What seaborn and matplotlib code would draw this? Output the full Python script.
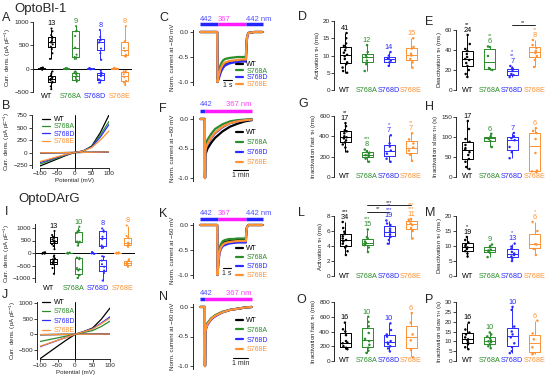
import numpy as np
import pandas as pd
import matplotlib
matplotlib.use("Agg")
import matplotlib.pyplot as plt
import seaborn as sns

sns.set_style("ticks")
plt.rcParams["font.family"] = ["Liberation Sans", "DejaVu Sans"]
plt.rcParams["axes.linewidth"] = 0.7

groups = ["WT", "S768A", "S768D", "S768E"]
colors = ["#000000", "#2b8c2b", "#2b2bff", "#ff9233"]
pal = dict(zip(groups, colors))

# ---------------- OptoBl-1 ----------------
# A: current densities (pA/pF): dark / light-on peak / light-off
a_dark = {"WT": [-20, -12, -6, 0, 5, 10, 18, 25], "S768A": [-12, -6, -2, 3, 8, 12],
          "S768D": [-15, -8, -3, 2, 7, 12], "S768E": [-10, -4, 2, 8, 14, 20]}
a_pos = {"WT": [210, 330, 420, 470, 520, 560, 570, 600, 640, 680, 720, 800, 860],
         "S768A": [210, 240, 250, 300, 450, 700, 800, 820, 910],
         "S768D": [190, 330, 430, 560, 600, 620, 680, 830],
         "S768E": [260, 270, 300, 380, 440, 570, 600, 910]}
a_neg = {"WT": [-440, -380, -300, -280, -250, -220, -200, -180, -150, -110, -60],
         "S768A": [-275, -250, -240, -200, -160, -120, -100, -80, -60],
         "S768D": [-300, -250, -230, -160, -130, -110, -80, -40],
         "S768E": [-350, -300, -260, -180, -120, -80, -60, -50]}
a_n = [13, 9, 8, 8]

# B: I-V curves (pA/pF)
iv_mv = [-100, -75, -50, -25, 0, 25, 50, 75, 100]
b_light = {"WT": [-270, -200, -130, -60, 0, 30, 130, 400, 750],
           "S768A": [-230, -170, -110, -50, 0, 30, 120, 350, 620],
           "S768D": [-200, -150, -95, -45, 0, 30, 110, 310, 560],
           "S768E": [-180, -135, -85, -40, 0, 30, 100, 250, 430]}
b_dark = {"WT": [-8, -6, -4, -2, 0, 2, 4, 7, 10], "S768A": [-6, -5, -3, -1, 0, 2, 4, 6, 9],
          "S768D": [-7, -5, -3, -2, 0, 2, 3, 6, 9], "S768E": [-5, -4, -3, -1, 0, 2, 5, 8, 12]}

# C: normalized current, 442/367/442 nm protocol (s)
c_t = [0, 2.05, 2.1, 2.2, 2.35, 2.5, 2.75, 3.0, 3.5, 4.0, 4.5, 5.0, 5.5, 5.55, 5.65, 5.8, 6.5, 7.5]
c_trace = {"WT": [0, 0, -1.0, -0.92, -0.83, -0.76, -0.69, -0.65, -0.62, -0.60, -0.59, -0.58, -0.58, -0.35, -0.10, -0.02, 0, 0],
           "S768A": [0, 0, -1.0, -0.85, -0.72, -0.64, -0.57, -0.54, -0.52, -0.51, -0.50, -0.50, -0.50, -0.30, -0.08, -0.02, 0, 0],
           "S768D": [0, 0, -1.0, -0.95, -0.88, -0.80, -0.72, -0.67, -0.63, -0.61, -0.60, -0.59, -0.59, -0.35, -0.10, -0.02, 0, 0],
           "S768E": [0, 0, -1.0, -0.90, -0.80, -0.72, -0.65, -0.61, -0.58, -0.57, -0.56, -0.55, -0.55, -0.33, -0.09, -0.02, 0, 0]}
c_light = [0, 2.1, 5.5, 7.5]

# F: normalized current, 442 then 367 nm (min)
f_t = [0, 0.32, 0.33, 0.35, 0.4, 0.5, 0.75, 1.0, 1.5, 2.0, 2.5, 3.0, 3.45]
f_trace = {"WT": [0, 0, -1.0, -0.62, -0.57, -0.50, -0.40, -0.32, -0.21, -0.13, -0.08, -0.04, -0.02],
           "S768A": [0, 0, -1.0, -0.50, -0.42, -0.35, -0.25, -0.17, -0.09, -0.04, -0.02, -0.01, 0],
           "S768D": [0, 0, -1.0, -0.55, -0.50, -0.43, -0.32, -0.24, -0.14, -0.07, -0.04, -0.02, -0.01],
           "S768E": [0, 0, -1.0, -0.55, -0.48, -0.42, -0.31, -0.23, -0.13, -0.07, -0.04, -0.02, -0.01]}
f_light = [0, 0.33, 3.45]

# D-H: kinetics
d_act = {"WT": [5.0, 5.5, 6.5, 7.5, 8.0, 9.0, 9.8, 10.2, 10.8, 11.5, 12.3, 12.8, 13.5, 15.0, 16.5],
         "S768A": [5.5, 7.5, 8.5, 9.5, 10.0, 11.0, 13.0],
         "S768D": [7.0, 8.0, 8.5, 9.0, 9.3, 10.0, 11.0],
         "S768E": [6.5, 8.0, 9.0, 10.0, 10.5, 12.0, 12.5, 15.0]}
d_n = [41, 12, 14, 15]
e_deact = {"WT": [13, 16, 20, 24, 27, 30, 31, 33, 36, 39, 41, 46, 55],
           "S768A": [20, 21, 22, 34, 43, 43.5],
           "S768D": [13, 15, 16, 19, 21, 22, 24],
           "S768E": [23, 30, 34, 37, 39, 42, 45, 50]}
e_n = [24, 6, 7, 8]
e_stars = ["**", "**", "*\n**", "**"]
g_fast = {"WT": [250, 290, 320, 340, 360, 380, 390, 400, 430, 450, 460, 500, 530],
          "S768A": [150, 180, 200, 215, 225, 240, 255, 270],
          "S768D": [150, 180, 230, 260, 300, 330, 410],
          "S768E": [160, 220, 260, 290, 330, 370, 430]}
g_n = [17, 8, 7, 7]
g_stars = ["**", "***", "*", "**"]
h_slow = {"WT": [20, 25, 38, 45, 55, 62, 68, 72, 80, 88, 95, 120, 140],
          "S768A": [75, 90, 95, 98, 102, 108],
          "S768D": [47, 62, 75, 92, 97, 102, 110],
          "S768E": [12, 14, 16, 60, 95, 110, 115, 122]}
h_n = [17, 6, 7, 6]

# ---------------- OptoDArG ----------------
i_dark = {"WT": [-30, -15, -5, 5, 15, 30], "S768A": [-20, -10, 0, 10, 20],
          "S768D": [-35, -20, -5, 5, 20, 35], "S768E": [-20, -8, 2, 12, 25]}
i_pos = {"WT": [150, 280, 350, 420, 480, 500, 540, 600, 650, 720, 880],
         "S768A": [300, 400, 430, 440, 450, 460, 800, 870, 900, 1050],
         "S768D": [200, 250, 300, 550, 650, 850, 900, 980],
         "S768E": [250, 290, 330, 380, 420, 600, 680, 1100]}
i_neg = {"WT": [-830, -600, -450, -420, -380, -350, -300, -250, -220, -150, -100],
         "S768A": [-1000, -900, -880, -700, -650, -600, -250, -200, -190, -180],
         "S768D": [-1100, -800, -700, -550, -450, -300, -150, -130],
         "S768E": [-550, -480, -470, -420, -380, -320, -300, -250]}
i_n = [13, 10, 8, 8]

j_light = {"WT": [-780, -580, -380, -185, 0, 90, 200, 480, 840],
           "S768A": [-230, -170, -115, -55, 0, 60, 120, 250, 420],
           "S768D": [-395, -295, -195, -95, 0, 90, 180, 360, 560],
           "S768E": [-380, -285, -190, -95, 0, 85, 170, 340, 520]}
j_dark = {"WT": [-10, -8, -5, -3, 0, 3, 5, 8, 12], "S768A": [-8, -6, -4, -2, 0, 2, 4, 6, 9],
          "S768D": [-9, -7, -5, -2, 0, 2, 4, 7, 10], "S768E": [-8, -6, -4, -2, 0, 2, 5, 7, 10]}

k_trace = {"WT": [0, 0, -1.0, -0.70, -0.50, -0.42, -0.36, -0.34, -0.32, -0.31, -0.30, -0.30, -0.30, -0.15, -0.03, 0, 0, 0],
           "S768A": [0, 0, -1.0, -0.65, -0.46, -0.38, -0.32, -0.30, -0.28, -0.28, -0.27, -0.27, -0.27, -0.14, -0.03, 0, 0, 0],
           "S768D": [0, 0, -1.0, -0.75, -0.56, -0.48, -0.42, -0.40, -0.37, -0.36, -0.35, -0.35, -0.35, -0.17, -0.03, 0, 0, 0],
           "S768E": [0, 0, -1.0, -0.72, -0.52, -0.45, -0.39, -0.36, -0.34, -0.33, -0.32, -0.32, -0.32, -0.16, -0.03, 0, 0, 0]}
n_trace = {"WT": [0, 0, -1.0, -0.42, -0.35, -0.28, -0.20, -0.15, -0.09, -0.05, -0.03, -0.01, 0],
           "S768A": [0, 0, -1.0, -0.40, -0.33, -0.27, -0.19, -0.14, -0.08, -0.05, -0.03, -0.01, 0],
           "S768D": [0, 0, -1.0, -0.45, -0.37, -0.30, -0.21, -0.16, -0.09, -0.05, -0.03, -0.01, 0],
           "S768E": [0, 0, -1.0, -0.44, -0.36, -0.29, -0.20, -0.15, -0.09, -0.05, -0.03, -0.01, 0]}

l_act = {"WT": [2.8, 3.3, 3.8, 4.0, 4.3, 4.6, 4.8, 5.0, 5.3, 5.6, 5.9, 6.4, 7.2],
         "S768A": [3.2, 3.8, 4.1, 4.3, 4.4, 4.6, 5.0, 5.2, 6.2],
         "S768D": [4.3, 4.8, 5.2, 5.5, 5.8, 6.0, 6.3, 6.8, 7.0, 7.4],
         "S768E": [5.0, 6.0, 6.4, 6.8, 7.0, 7.3, 7.5, 7.6]}
l_n = [34, 15, 19, 11]
l_stars = ["***", "***", "**\n***", "***\n***"]
m_deact = {"WT": [6.5, 7.5, 8.3, 9.0, 9.5, 10.0, 10.5, 11.2, 12.0, 13.0],
           "S768A": [6.3, 7.8, 8.2, 8.5, 8.8, 9.6, 10.0, 10.5],
           "S768D": [5.0, 5.8, 6.5, 7.0, 7.5, 8.0, 9.0, 9.8, 10.8],
           "S768E": [7.0, 9.0, 10.5, 10.6, 15.0, 18.0]}
m_n = [19, 9, 13, 6]
m_stars = ["*", "", "*", "*"]
o_fast = {"WT": [160, 170, 180, 200, 240, 250, 270, 350, 400, 430, 520],
          "S768A": [110, 140, 180, 220, 270, 300, 380, 470, 530, 600],
          "S768D": [130, 170, 200, 230, 250, 270, 330, 360, 420, 510],
          "S768E": [50, 150, 280, 360, 520, 650]}
o_n = [16, 10, 10, 6]
p_slow = {"WT": [6, 7, 8.5, 9.5, 10.5, 11, 12, 13.5, 14.5, 16, 19.5],
          "S768A": [6.5, 7.5, 8.5, 9.5, 10, 10.5, 11.5, 12.5, 13.5, 14.5],
          "S768D": [4, 5, 7, 9, 12, 13.5, 15, 17.5, 26, 27.5],
          "S768E": [3.5, 4, 7, 11, 14, 20.5]}
p_n = [16, 10, 10, 6]

W, H = 550, 384
fig = plt.figure(figsize=(W / 100, H / 100), dpi=100)
TICK_FS, LAB_FS = 4.6, 4.4


def px_axes(x0, y0, x1, y1):
    return fig.add_axes([x0 / W, 1 - y1 / H, (x1 - x0) / W, (y1 - y0) / H])


def style_cat_axes(ax, ylabel, pad):
    sns.despine(ax=ax, bottom=True)
    ax.set_xlabel("")
    ax.set_ylabel(ylabel, fontsize=LAB_FS, labelpad=0.8)
    ax.set_xticks(range(4))
    ax.set_xticklabels(groups, fontsize=5.2, va="center")
    for lbl, g in zip(ax.get_xticklabels(), groups):
        lbl.set_color(pal[g])
    ax.tick_params(axis="x", length=0, pad=pad)
    ax.tick_params(axis="y", length=2, width=0.6, labelsize=TICK_FS, pad=0.8)


def box_panel(ax, data, n, ylim, yticks, ylabel, stars=None, brackets=()):
    df = pd.DataFrame([(g, v) for g in groups for v in data[g]], columns=["group", "value"])
    sns.boxplot(data=df, x="group", y="value", hue="group", order=groups, hue_order=groups,
                palette=pal, fill=False, whis=(0, 100), width=0.5, linewidth=0.7,
                showcaps=False, fliersize=0, legend=False, ax=ax)
    sns.stripplot(data=df, x="group", y="value", hue="group", order=groups, hue_order=groups,
                  palette=pal, size=1.8, jitter=0.12, legend=False, ax=ax, zorder=3)
    ax.set_xlim(-0.5, 3.5)
    ax.set_ylim(*ylim)
    ax.set_yticks(yticks)
    style_cat_axes(ax, ylabel, 0)
    span = ylim[1] - ylim[0]
    for i, g in enumerate(groups):
        top = max(data[g]) + 0.02 * span
        ax.text(i, top, str(n[i]), ha="center", va="bottom", color=pal[g], fontsize=5.3, clip_on=False)
        if stars and stars[i]:
            ax.text(i, top + 0.12 * span, stars[i], ha="center", va="bottom", color=pal[g],
                    fontsize=4, linespacing=0.7, clip_on=False)
    for i0, i1, y, s in brackets:
        ax.plot([i0, i1], [y, y], color="k", lw=0.6, clip_on=False)
        ax.text((i0 + i1) / 2, y, s, ha="center", va="bottom", fontsize=4, clip_on=False)


def current_panel(ax, dark, pos, neg, n, ylim, yticks, pad):
    for part, off in [(dark, -0.2), (pos, 0.2), (neg, 0.2)]:
        df = pd.DataFrame([(i + off, g, v) for i, g in enumerate(groups) for v in part[g]],
                          columns=["x", "group", "value"])
        sns.boxplot(data=df, x="x", y="value", hue="group", hue_order=groups, palette=pal,
                    native_scale=True, dodge=False, fill=False, whis=(0, 100), width=0.28,
                    linewidth=0.7, showcaps=False, fliersize=0, legend=False, ax=ax)
        sns.stripplot(data=df, x="x", y="value", hue="group", hue_order=groups, palette=pal,
                      native_scale=True, dodge=False, jitter=0.06, size=1.5, legend=False,
                      ax=ax, zorder=3)
    ax.axhline(0, color="k", lw=0.7, zorder=0)
    ax.set_xlim(-0.55, 3.5)
    ax.set_ylim(*ylim)
    ax.set_yticks(yticks)
    style_cat_axes(ax, "Curr. dens. (pA pF$^{\\mathregular{-1}}$)", pad)
    span = ylim[1] - ylim[0]
    for i, g in enumerate(groups):
        top = max(pos[g]) + 0.02 * span
        ax.text(i + 0.2, top, str(n[i]), ha="center", va="bottom", color=pal[g], fontsize=5.3,
                clip_on=False)


def iv_panel(ax, light, dark, ylim, yticks, left_off, leg_xy, leg_sp):
    for g in groups:
        sns.lineplot(x=iv_mv, y=dark[g], color=pal[g], lw=0.9, ax=ax, estimator=None, sort=False)
    for g in groups:
        sns.lineplot(x=iv_mv, y=light[g], color=pal[g], lw=0.9, ax=ax, label=g,
                     estimator=None, sort=False)
    ax.axvline(0, color="k", lw=0.7, zorder=0)
    ax.set_xlim(-100, 100)
    ax.set_ylim(*ylim)
    ax.set_xticks([-100, -50, 0, 50, 100])
    ax.set_yticks(yticks)
    sns.despine(ax=ax)
    ax.spines["left"].set_position(("outward", left_off))
    ax.set_xlabel("Potential (mV)", fontsize=LAB_FS, labelpad=1)
    ax.set_ylabel("Curr. dens. (pA pF$^{\\mathregular{-1}}$)", fontsize=LAB_FS, labelpad=0.8)
    ax.tick_params(length=2, width=0.6, labelsize=TICK_FS, pad=0.8)
    ax.legend(loc="upper left", bbox_to_anchor=(leg_xy[0] / W, 1 - leg_xy[1] / H),
              bbox_transform=fig.transFigure, frameon=False, fontsize=5, handlelength=1.2,
              handletextpad=0.5, labelspacing=leg_sp, borderaxespad=0, borderpad=0,
              labelcolor="linecolor")


def trace_panel(ax, t, traces, edges, seg_colors, labels, xlim, bar_y, txt_y,
                scale_x, scale_len, scale_y, scale_txt, leg_xy, leg_sp):
    for g in groups:
        sns.lineplot(x=t, y=traces[g], color=pal[g], lw=1.6, ax=ax, label=g,
                     estimator=None, sort=False)
    ax.set_xlim(*xlim)
    ax.set_ylim(-1.05, 0.05)
    ax.set_yticks([0, -0.5, -1.0])
    ax.set_yticklabels(["0.0", "-0.5", "-1.0"])
    ax.set_xticks([])
    sns.despine(ax=ax, bottom=True)
    ax.set_xlabel("")
    ax.set_ylabel("Norm. current at −60 mV", fontsize=LAB_FS, labelpad=2)
    ax.tick_params(axis="y", length=2, width=0.6, labelsize=TICK_FS, pad=0.8)
    tr = ax.get_xaxis_transform()
    for e0, e1, c in zip(edges[:-1], edges[1:], seg_colors):
        ax.plot([e0, e1], [bar_y, bar_y], color=c, lw=2.5, solid_capstyle="butt",
                transform=tr, clip_on=False)
    for x, txt, c, ha in labels:
        ax.text(x, txt_y, txt, color=c, ha=ha, va="center", fontsize=5.5, transform=tr)
    ax.plot([scale_x, scale_x + scale_len], [scale_y, scale_y], color="k", lw=0.8)
    ax.text(scale_x + scale_len / 2, scale_y - 0.04, scale_txt, ha="center", va="top", fontsize=5)
    ax.legend(loc="upper left", bbox_to_anchor=(leg_xy[0] / W, 1 - leg_xy[1] / H),
              bbox_transform=fig.transFigure, frameon=False, fontsize=5, handlelength=1.0,
              handletextpad=0.5, labelspacing=leg_sp, borderaxespad=0, borderpad=0,
              labelcolor="linecolor")


BLUE, MAG = "#2424ff", "#ff1aff"
BLUE_T, MAG_T = "#5050ff", "#ff40ff"

# ---- row 1: OptoBl-1 ----
current_panel(px_axes(33, 22, 132, 92), a_dark, a_pos, a_neg, a_n, (-500, 1000),
              [-500, 0, 500, 1000], 3.5)
iv_panel(px_axes(40, 114.5, 109, 167.5), b_light, b_dark, (-300, 760),
         [-250, 0, 250, 500, 750], 6, (42, 116), 0.05)
c_labels = [(0, "442", BLUE_T, "left"), (2.1, "367", MAG_T, "left"), (5.5, "442 nm", BLUE_T, "left")]
f_labels = [(0, "442", BLUE_T, "left"), (3.45, "367 nm", MAG_T, "right")]
trace_panel(px_axes(193, 29.5, 265, 84.5), c_t, c_trace, c_light, [BLUE, MAG, BLUE], c_labels,
            (-0.85, 7.8), 1.10, 1.19, 2.8, 1, -0.96, "1 s", (236, 61), -0.05)
trace_panel(px_axes(193, 116, 256, 181), f_t, f_trace, f_light, [BLUE, MAG], f_labels,
            (-0.47, 3.73), 1.077, 1.17, 2.2, 1, -0.86, "1 min", (236, 129), 0.45)
box_panel(px_axes(334, 21, 422, 90), d_act, d_n, (0, 20), [0, 5, 10, 15, 20],
          "Activation τ$_{\\mathregular{H}}$ (ms)")
box_panel(px_axes(456, 30, 546, 90), e_deact, e_n, (0, 60), [0, 20, 40, 60],
          "Deactivation τ$_{\\mathregular{H}}$ (ms)", e_stars, [(2, 3, 65, "**")])
box_panel(px_axes(334, 116, 422, 177), g_fast, g_n, (0, 600), [0, 200, 400, 600],
          "Inactivation fast τ$_{\\mathregular{H}}$ (ms)", g_stars)
box_panel(px_axes(456, 117, 546, 177), h_slow, h_n, (0, 150), [0, 50, 100, 150],
          "Inactivation slow τ$_{\\mathregular{H}}$ (s)")

# ---- row 2: OptoDArG ----
current_panel(px_axes(35, 224.25, 135, 281.75), i_dark, i_pos, i_neg, i_n, (-1150, 1150),
              [-1000, -500, 0, 500, 1000], 5)
iv_panel(px_axes(40, 302.4, 110, 359.4), j_light, j_dark, (-800, 1020),
         [-500, 0, 500, 1000], 2, (42, 299), 0.35)
trace_panel(px_axes(193, 222.5, 265, 277.5), c_t, k_trace, c_light, [BLUE, MAG, BLUE], c_labels,
            (-0.85, 7.8), 1.064, 1.155, 2.7, 1, -0.86, "1 s", (236, 245), 0.3)
trace_panel(px_axes(193, 304, 256, 369), f_t, n_trace, f_light, [BLUE, MAG], f_labels,
            (-0.47, 3.73), 1.077, 1.154, 2.2, 1, -0.86, "1 min", (236, 317), 0.4)
box_panel(px_axes(334, 216, 422, 276), l_act, l_n, (0, 8), [0, 2, 4, 6, 8],
          "Activation τ$_{\\mathregular{H}}$ (ms)", l_stars, [(1, 2, 8.6, "**"), (1, 3, 9.5, "***")])
box_panel(px_axes(456, 216, 546, 276), m_deact, m_n, (0, 20), [0, 5, 10, 15, 20],
          "Deactivation τ$_{\\mathregular{H}}$ (ms)", m_stars)
box_panel(px_axes(334, 302, 422, 361), o_fast, o_n, (0, 800), [0, 200, 400, 600, 800],
          "Inactivation fast τ$_{\\mathregular{H}}$ (ms)")
box_panel(px_axes(456, 302, 546, 361), p_slow, p_n, (0, 30), [0, 5, 10, 15, 20, 25, 30],
          "Inactivation slow τ$_{\\mathregular{H}}$ (s)")

# titles and panel letters
fig.text(14 / W, 1 - 3 / H, "OptoBl-1", fontsize=9.5, va="top")
fig.text(18 / W, 1 - 193 / H, "OptoDArG", fontsize=9.5, va="top")
letters = [("A", 2, 12), ("B", 2, 100), ("C", 159, 12), ("D", 298, 11), ("E", 425, 16),
           ("F", 159, 103), ("G", 298, 98), ("H", 425, 101), ("I", 5, 206), ("J", 2, 289),
           ("K", 159, 208), ("L", 298, 207), ("M", 425, 207), ("N", 159, 291),
           ("O", 296, 294), ("P", 425, 294)]
for s, x, y in letters:
    fig.text(x / W, 1 - y / H, s, fontsize=9, va="top")

fig.savefig("out.png", dpi=100)
